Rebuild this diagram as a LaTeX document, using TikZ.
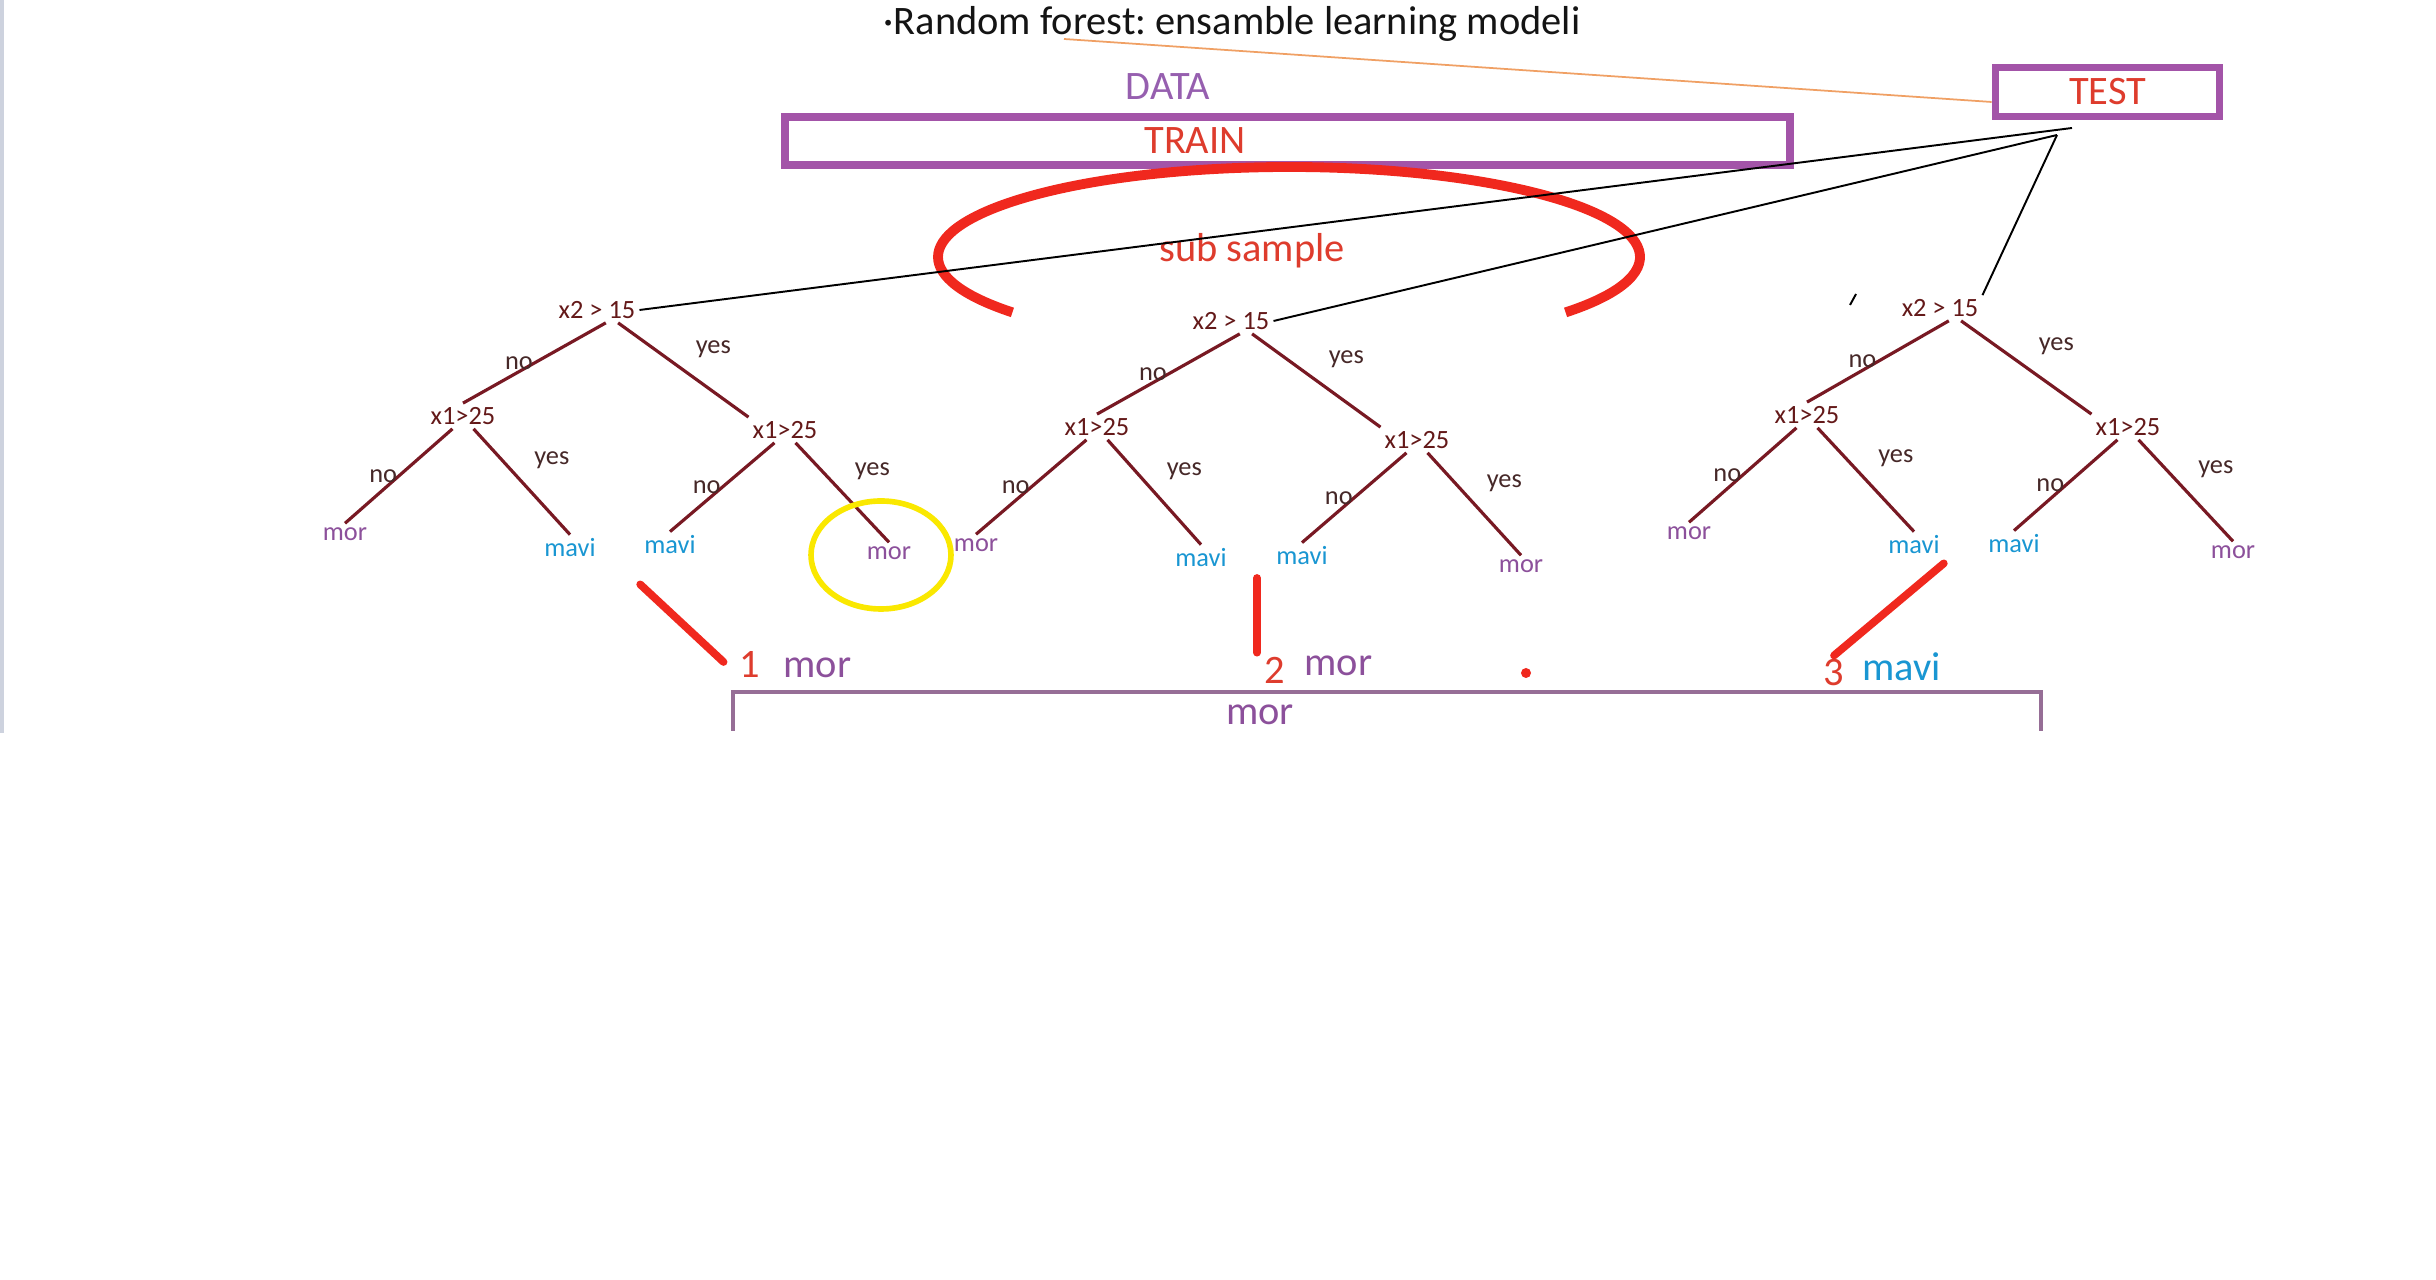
\documentclass[tikz,border=0pt]{standalone}
\usepackage{fontspec}
\setmainfont{Carlito}
\usetikzlibrary{positioning}
\definecolor{titleblack}{RGB}{20, 20, 20}
\definecolor{framepurple}{RGB}{163, 84, 168}
\definecolor{datapurple}{RGB}{150, 95, 175}
\definecolor{trainred}{RGB}{222, 60, 45}
\definecolor{arcred}{RGB}{240, 40, 30}
\definecolor{branchred}{RGB}{120, 25, 35}
\definecolor{splittext}{RGB}{100, 25, 25}
\definecolor{lbltext}{RGB}{70, 40, 40}
\definecolor{morpurple}{RGB}{140, 80, 155}
\definecolor{maviblue}{RGB}{25, 150, 210}
\definecolor{linkorange}{RGB}{240, 160, 100}
\definecolor{hiliteyellow}{RGB}{250, 232, 0}
\definecolor{resultframe}{RGB}{150, 110, 150}
\definecolor{edgegray}{RGB}{205, 210, 222}
\newcommand{\bigtxt}{\fontsize{11.5}{13}\selectfont}
\newcommand{\smalltxt}{\fontsize{7.5}{9}\selectfont}
\frenchspacing

\begin{document}
\begin{tikzpicture}[
    boxframe/.style={rectangle, draw=framepurple, line width=2.2pt, inner sep=0pt},
    bigtext/.style={font=\bigtxt, inner sep=1pt},
    split/.style={font=\smalltxt, text=splittext, inner sep=1pt},
    leafmor/.style={font=\smalltxt, text=morpurple, inner sep=1pt},
    leafmavi/.style={font=\smalltxt, text=maviblue, inner sep=1pt},
    branch/.style={draw=branchred, line width=0.9pt},
    nolbl/.style={font=\smalltxt, text=lbltext, midway, left, inner sep=0pt},
    yeslbl/.style={font=\smalltxt, text=lbltext, midway, above right=3pt, inner sep=1pt},
    link/.style={draw=black, line width=0.55pt},
    vote/.style={draw=arcred, line width=2.2pt, line cap=round},
    hilite/.style={draw=hiliteyellow, line width=1.6pt},
]
\fill[white] (0,0) rectangle (24.36,-12.80);
\useasboundingbox (0,0) rectangle (24.36,-12.80);
\draw[edgegray, line width=1.2pt] (0.02,0) -- (0.02,-7.33);

% Title, data and test split
\node[bigtext, text=titleblack] (title) at (12.32,-0.24) {·Random forest: ensamble learning modeli};
\node[bigtext, text=datapurple] (data) at (11.68,-0.87) {DATA};
\node[boxframe, minimum width=10.05cm, minimum height=0.48cm] (train) at (12.875,-1.41) {};
\node[bigtext, text=trainred] (trainlbl) at (11.95,-1.41) {TRAIN};
\node[boxframe, minimum width=2.24cm, minimum height=0.49cm, font=\bigtxt, text=trainred] (test) at (21.075,-0.92) {TEST};

\coordinate (olstart) at (10.64,-0.39);
\draw[linkorange, line width=0.5pt] (olstart) -- ([yshift=-1mm]test.west);

% Sub sample
\coordinate (subc) at (12.89,-2.57);
\draw[arcred, line width=2.8pt] ([shift={(-38:3.51 and 0.90)}]subc) arc[start angle=-38, end angle=218, x radius=3.51, y radius=0.90];
\node[bigtext, text=trainred] (sub) at (12.52,-2.51) {sub sample};

% Tree 1
\node[split] (r1) at (5.97,-3.10) {x2 > 15};
\node[split] (a1) at (4.63,-4.16) {x1>25};
\node[split] (b1) at (7.85,-4.30) {x1>25};
\node[leafmor] (l1a) at (3.45,-5.34) {mor};
\node[leafmavi] (l1b) at (5.70,-5.48) {mavi};
\node[leafmavi] (l1c) at (6.70,-5.45) {mavi};
\node[leafmor] (l1d) at (8.89,-5.53) {mor};
\draw[branch] ([xshift=2.5pt]r1.south) -- node[nolbl] {no} (a1.north);
\draw[branch] ([xshift=6pt]r1.south) -- node[yeslbl] {yes} (b1.north west);
\draw[branch] ([xshift=-3pt]a1.south) -- node[nolbl] {no} (l1a.north);
\draw[branch] ([xshift=3pt]a1.south) -- node[yeslbl] {yes} (l1b.north);
\draw[branch] ([xshift=-3pt]b1.south) -- node[nolbl] {no} (l1c.north);
\draw[branch] ([xshift=3pt]b1.south) -- node[yeslbl] {yes} (l1d.north);
\draw[hilite] ([xshift=-0.8mm, yshift=-0.2mm]l1d.center) ellipse [x radius=0.70, y radius=0.54];

% Tree 2
\node[split] (r2) at (12.31,-3.21) {x2 > 15};
\node[split] (a2) at (10.97,-4.27) {x1>25};
\node[split] (b2) at (14.17,-4.40) {x1>25};
\node[leafmor] (l2a) at (9.76,-5.45) {mor};
\node[leafmavi] (l2b) at (12.01,-5.58) {mavi};
\node[leafmavi] (l2c) at (13.02,-5.56) {mavi};
\node[leafmor] (l2d) at (15.21,-5.66) {mor};
\draw[branch] ([xshift=2.5pt]r2.south) -- node[nolbl] {no} (a2.north);
\draw[branch] ([xshift=6pt]r2.south) -- node[yeslbl] {yes} (b2.north west);
\draw[branch] ([xshift=-3pt]a2.south) -- node[nolbl] {no} (l2a.north);
\draw[branch] ([xshift=3pt]a2.south) -- node[yeslbl] {yes} (l2b.north);
\draw[branch] ([xshift=-3pt]b2.south) -- node[nolbl] {no} (l2c.north);
\draw[branch] ([xshift=3pt]b2.south) -- node[yeslbl] {yes} (l2d.north);

% Tree 3
\node[split] (r3) at (19.40,-3.08) {x2 > 15};
\node[split] (a3) at (18.07,-4.15) {x1>25};
\node[split] (b3) at (21.28,-4.27) {x1>25};
\node[leafmor] (l3a) at (16.89,-5.33) {mor};
\node[leafmavi] (l3b) at (19.14,-5.45) {mavi};
\node[leafmavi] (l3c) at (20.14,-5.44) {mavi};
\node[leafmor] (l3d) at (22.33,-5.52) {mor};
\draw[branch] ([xshift=2.5pt]r3.south) -- node[nolbl] {no} (a3.north);
\draw[branch] ([xshift=6pt]r3.south) -- node[yeslbl] {yes} (b3.north west);
\draw[branch] ([xshift=-3pt]a3.south) -- node[nolbl] {no} (l3a.north);
\draw[branch] ([xshift=3pt]a3.south) -- node[yeslbl] {yes} (l3b.north);
\draw[branch] ([xshift=-3pt]b3.south) -- node[nolbl] {no} (l3c.north);
\draw[branch] ([xshift=3pt]b3.south) -- node[yeslbl] {yes} (l3d.north);
\draw[link] (18.50,-3.05) -- (18.56,-2.94);

% Test samples sent to each tree
\coordinate (fan) at (20.57,-1.35);
\coordinate (fantip) at (20.72,-1.28);
\draw[link] (r1.east) -- (fantip);
\draw[link] (r2.east) -- (fan);
\draw[link] (r3.north east) -- (fan);

% Votes
\node[bigtext, text=trainred] (n1) at (7.50,-6.65) {1};
\node[bigtext, text=morpurple, base right=0.15cm of n1] (m1) {mor};
\node[bigtext, text=trainred] (n2) at (12.75,-6.70) {2};
\node[bigtext, text=morpurple, base right=0.11cm of n2, yshift=0.8mm] (m2) {mor};
\node[bigtext, text=trainred] (n3) at (18.34,-6.73) {3};
\node[bigtext, text=maviblue, base right=0.1cm of n3, yshift=0.5mm] (m3) {mavi};
\coordinate (v2) at (12.57,-5.78);
\draw[vote] ([yshift=-2.6mm]l1c.south west) -- ([xshift=-1.2mm, yshift=0.3mm]n1.west);
\draw[vote] (v2) -- (v2 |- n2.north);
\draw[vote] ([yshift=-0.5mm]l3b.south east) -- (n3.north);
\fill[arcred] (15.26,-6.73) circle (0.05);

% Majority result
\draw[resultframe, line width=0.9pt] (7.33,-7.31) |- (20.41,-6.92) -- (20.41,-7.31);
\node[bigtext, text=morpurple] (final) at (12.60,-7.15) {mor};

\end{tikzpicture}
\end{document}
